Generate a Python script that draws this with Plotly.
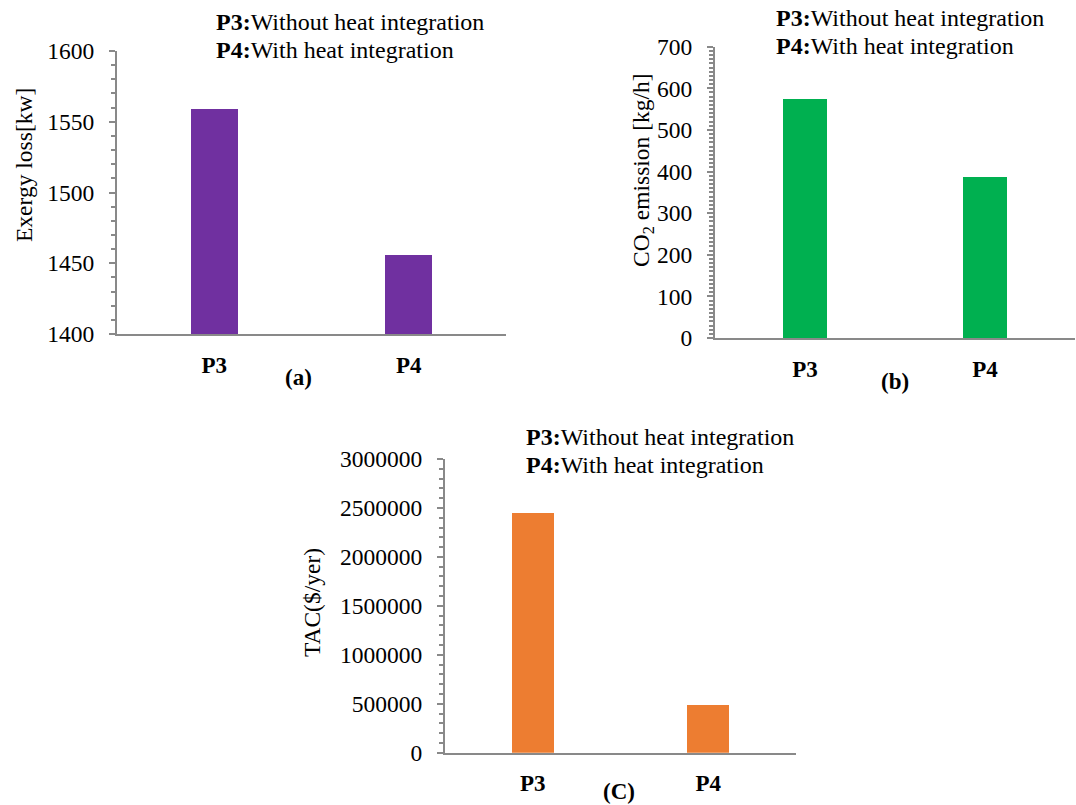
import plotly.graph_objects as go

# Process variants compared in all three panels
categories = ["P3", "P4"]
exergy_loss = [1559, 1456]          # kW
co2_emission = [575, 388]           # kg/h
tac = [2450000, 490000]             # $/year

W, H = 1076, 805
FONT = "Liberation Serif, Times New Roman, serif"
AXIS_GRAY = "#898989"


def px(x):
    return x / W


def py(y):
    return 1 - y / H


fig = go.Figure()

panels = [
    dict(vals=exergy_loss, color="#7030A0", xd=(117, 506), yd=(51, 334),
         yr=[1400, 1600], dtick=50, minor=10),
    dict(vals=co2_emission, color="#00B050", xd=(715, 1075), yd=(46.7, 338),
         yr=[0, 700], dtick=100, minor=10),
    dict(vals=tac, color="#ED7D31", xd=(445, 796), yd=(459, 752.7),
         yr=[0, 3000000], dtick=500000, minor=100000),
]

for i, p in enumerate(panels, start=1):
    xa = "x" if i == 1 else f"x{i}"
    ya = "y" if i == 1 else f"y{i}"
    fig.add_trace(go.Bar(
        x=categories, y=p["vals"], xaxis=xa, yaxis=ya,
        marker=dict(color=p["color"], line=dict(width=0)),
        width=0.24, showlegend=False, cliponaxis=True,
    ))
    xkey = "xaxis" if i == 1 else f"xaxis{i}"
    ykey = "yaxis" if i == 1 else f"yaxis{i}"
    fig.layout[xkey] = dict(
        domain=[px(p["xd"][0]), px(p["xd"][1])],
        anchor=ya, type="category", range=[-0.5, 1.5],
        showline=True, linecolor=AXIS_GRAY, linewidth=2,
        showgrid=False, zeroline=False, ticks="", automargin=False,
        tickfont=dict(family=FONT, size=23, color="black", weight="bold"),
        ticklabelstandoff=9,
    )
    fig.layout[ykey] = dict(
        domain=[py(p["yd"][1]), py(p["yd"][0])],
        anchor=xa, range=p["yr"], dtick=p["dtick"], tick0=0,
        showline=True, linecolor=AXIS_GRAY, linewidth=2,
        showgrid=False, zeroline=False, automargin=False,
        ticks="outside", ticklen=6, tickwidth=1.5, tickcolor=AXIS_GRAY,
        minor=dict(ticks="outside", ticklen=4, tickwidth=1.5,
                   tickcolor=AXIS_GRAY, dtick=p["minor"], showgrid=False),
        tickfont=dict(family=FONT, size=23.5, color="black"),
        ticklabelstandoff=10, tickformat="d",
    )

annotations = []


def text(x, y, s, size=23, angle=0, xanchor="center", bold=False):
    annotations.append(dict(
        x=px(x), y=py(y), xref="paper", yref="paper", text=s,
        showarrow=False, textangle=angle, xanchor=xanchor, yanchor="middle",
        font=dict(family=FONT, size=size, color="black",
                  weight="bold" if bold else "normal"),
    ))


# Legend notes above each panel
for x0, y0 in [(214, 22), (774, 18), (524, 437)]:
    text(x0, y0, "<b>P3:</b>Without heat integration", size=24, xanchor="left")
    text(x0, y0 + 28, "<b>P4:</b>With heat integration", size=24, xanchor="left")

# Panel letters
text(298, 378, "(a)", bold=True)
text(895, 381, "(b)", bold=True)
text(619, 791, "(C)", bold=True)

# Y-axis titles
text(24, 165, "Exergy loss[kw]", size=23.5, angle=-90)
text(643, 170, "CO<sub>2</sub> emission [kg/h]", size=23.5, angle=-90)
text(312, 603, "TAC($/yer)", size=23.5, angle=-90)

fig.update_layout(
    width=W, height=H,
    margin=dict(l=0, r=0, t=0, b=0, autoexpand=False),
    paper_bgcolor="white", plot_bgcolor="white",
    font=dict(family=FONT, color="black"),
    annotations=annotations,
    bargap=0,
)

fig.write_html("out.html")
